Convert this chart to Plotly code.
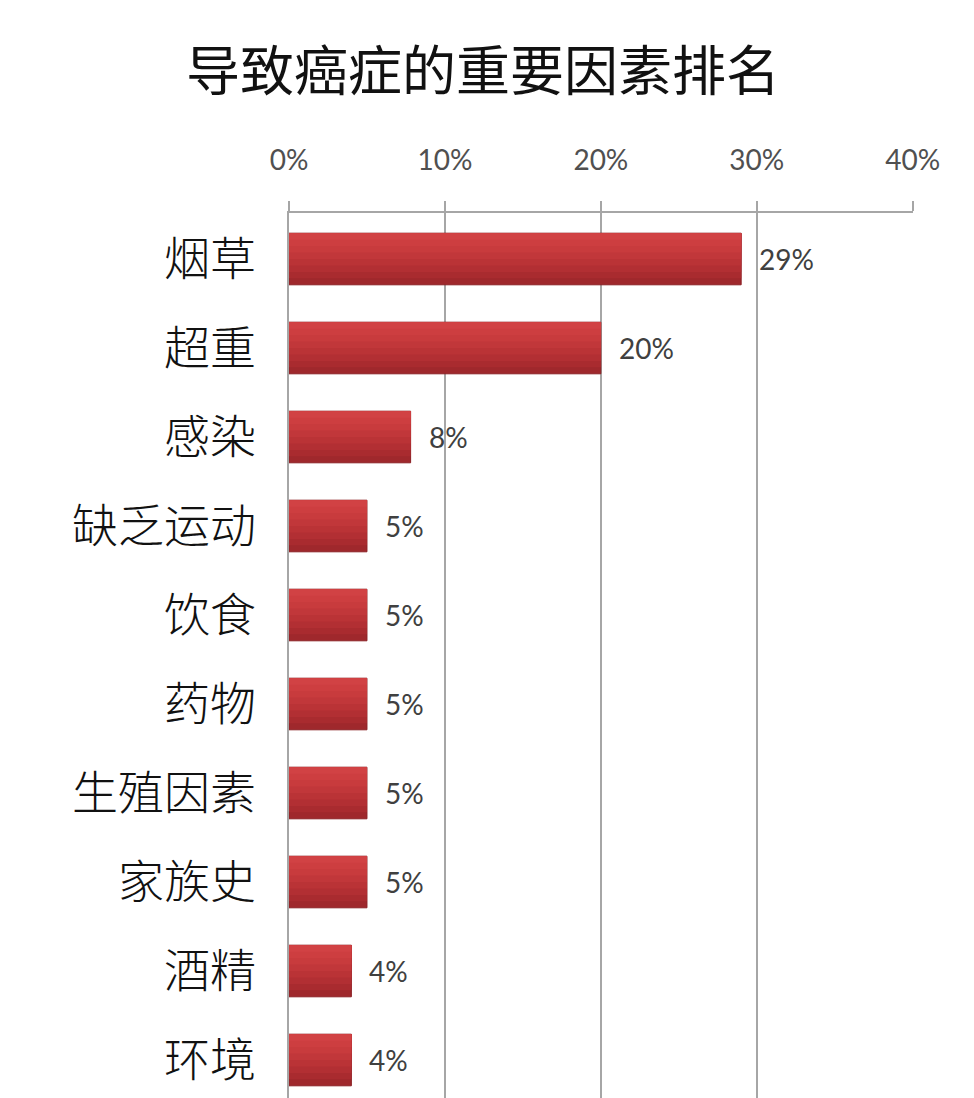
import plotly.graph_objects as go

# 导致癌症的重要因素排名
factors = ["烟草", "超重", "感染", "缺乏运动", "饮食", "药物", "生殖因素", "家族史", "酒精", "环境"]
shares = [29, 20, 7.8, 5, 5, 5, 5, 5, 4, 4]
share_labels = ["29%", "20%", "8%", "5%", "5%", "5%", "5%", "5%", "4%", "4%"]
tick_vals = [0, 10, 20, 30, 40]
tick_text = ["0%", "10%", "20%", "30%", "40%"]

# page has an 8px body margin, so the figure is drawn 8px in from the corner
PAD = 8
W, H = 974 - PAD, 1098 - PAD
left, right, top = 289 - PAD, 61, 213 - PAD
first_row, row_step = 259 - PAD, 89

fig = go.Figure()

# stepped shading to mimic the bar gradient (dark bottom, lighter top)
shades = ["#9f282c", "#a92b2f", "#b22f33", "#ba3336", "#c1373a", "#c83b3d", "#cd3e40", "#d14244"]
bar_w = 0.58
for k, color in enumerate(shades):
    w = bar_w * (1 - k / len(shades))
    fig.add_trace(go.Bar(
        x=shares, y=list(range(len(factors))), orientation="h",
        marker=dict(color=color,
                    line=dict(color="#8a1f23", width=1) if k == 0 else dict(width=0)),
        offset=-bar_w / 2, width=w, hoverinfo="skip", showlegend=False,
    ))

for i, (v, t) in enumerate(zip(shares, share_labels)):
    fig.add_annotation(
        x=v, y=i, text=t, showarrow=False, xanchor="left", xshift=16,
        font=dict(family="Lato, Open Sans, sans-serif", size=28, color="#404040"),
    )

grid_col = "#a6a6a6"
border_x = (970 - PAD - left) / (W - left - right)
fig.update_layout(
    width=W, height=H,
    margin=dict(l=left, r=right, t=top, b=0),
    paper_bgcolor="white", plot_bgcolor="white",
    barmode="overlay",
    title=dict(
        text="导致癌症的重要因素排名",
        x=(483 - PAD) / W, xref="container", xanchor="center",
        y=1 - (72 - PAD) / H, yref="container", yanchor="middle",
        font=dict(family="Noto Sans CJK SC", size=54, color="#111111"),
    ),
    xaxis=dict(
        side="top", range=[0, 40.02],
        tickvals=tick_vals, ticktext=tick_text,
        showgrid=True, gridcolor=grid_col, gridwidth=1.5,
        showline=True, linecolor=grid_col, linewidth=1.5,
        ticks="outside", ticklen=10, tickcolor=grid_col, tickwidth=1.5,
        ticklabelstandoff=20, zeroline=False,
        tickfont=dict(family="Lato, Open Sans, sans-serif", size=28, color="#505050"),
        fixedrange=True,
    ),
    yaxis=dict(
        range=[(H - first_row) / row_step, (top - first_row) / row_step],
        tickvals=list(range(len(factors))), ticktext=factors,
        showgrid=False, zeroline=False,
        showline=True, linecolor=grid_col, linewidth=1.5,
        ticks="", ticklabelstandoff=22,
        tickfont=dict(family="Noto Sans CJK SC", size=46, color="#111111", weight=300),
        fixedrange=True,
    ),
    shapes=[
        dict(type="line", xref="paper", yref="paper", layer="above",
             x0=border_x, x1=border_x, y0=-0.05, y1=1.3,
             line=dict(color="#909090", width=2)),
    ],
)

fig.write_html("out.html")
